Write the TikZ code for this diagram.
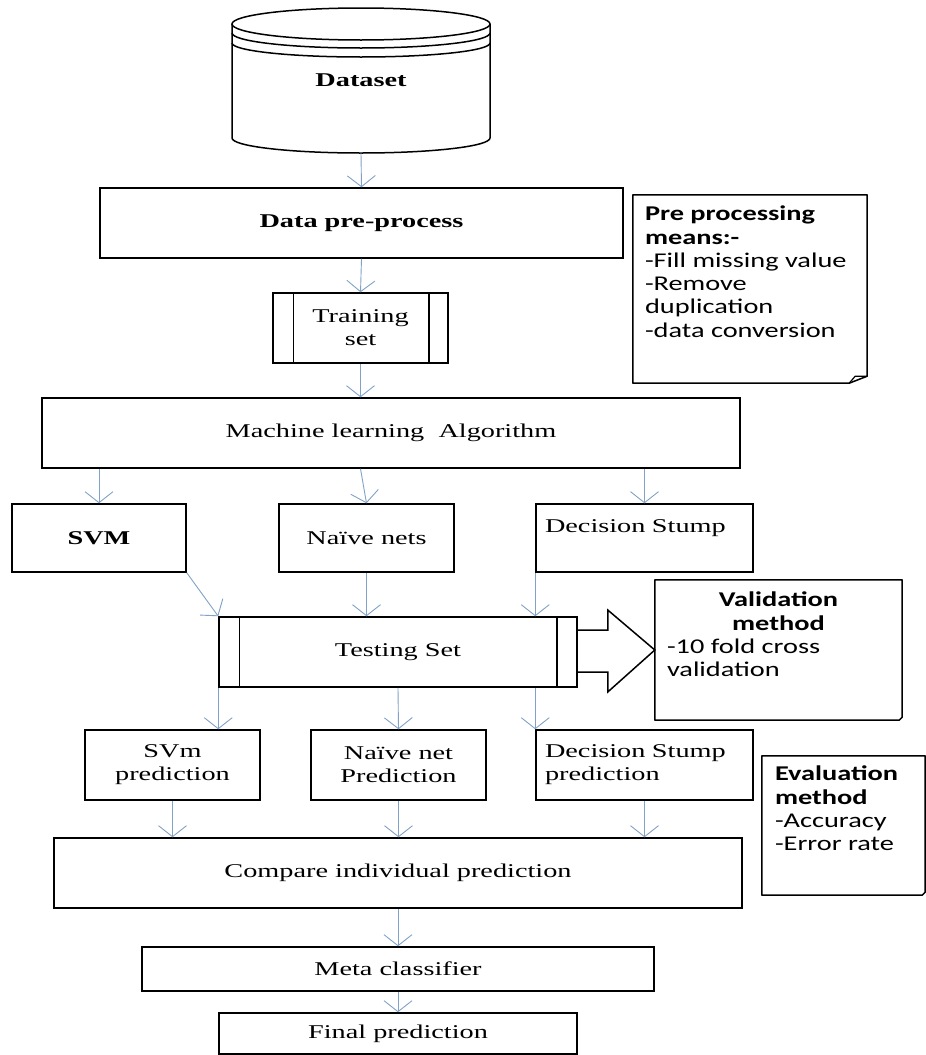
\documentclass[tikz,border=0pt]{standalone}
\usepackage{fontspec}
\setmainfont{Liberation Serif}[FakeStretch=1.45]
\newfontfamily\notefont{Carlito}[FakeStretch=1.35]
\usetikzlibrary{arrows.meta,calc}
\definecolor{flowblue}{RGB}{128,162,200}
\newcommand\boxfont{\fontsize{19.5}{23}\selectfont}

\begin{document}
\begin{tikzpicture}[x=1pt, y=-1pt,
    boxline/.style={draw, line width=1.5pt},
    box/.style 2 args={boxline, minimum width=#1, minimum height=#2, inner sep=0pt, align=center, font=\boxfont},
    notebox/.style={inner sep=0pt, font=\notefont\fontsize{21}{23.3}\selectfont},
    flow/.style={draw=flowblue, line width=0.9pt, -{Straight Barb[length=11pt,width=28pt]}}]
    \useasboundingbox (0,0) rectangle (926,1055);

    % データセット (円柱)
    \draw[boxline] (361,24) ellipse [x radius=129pt, y radius=16pt];
    \draw[boxline] (232,33) arc [start angle=180, end angle=360, x radius=129pt, y radius=15pt];
    \draw[boxline] (232,43) arc [start angle=180, end angle=360, x radius=129pt, y radius=14pt];
    \draw[boxline] (232,24) -- (232,138) arc [start angle=180, end angle=360, x radius=129pt, y radius=15pt] -- (490,24);
    \node[minimum width=258pt, minimum height=145pt, inner sep=0pt, font=\bfseries\boxfont] (dataset) at (361,80.5) {Dataset};

    % 処理の箱
    \node[box={523pt}{70pt}, font=\bfseries\boxfont] (pre) at (361.5,223) {Data pre-process};
    \node[box={175pt}{70pt}] (train) at (360.5,328) {Training\\set};
    \node[box={698pt}{70pt}] (ml) at (391,433) {Machine learning~ Algorithm};
    \node[box={174pt}{68pt}, font=\bfseries\boxfont] (svm) at (99,538) {SVM};
    \node[box={175pt}{68pt}] (nets) at (366.5,538) {Naïve nets};
    \node[box={217pt}{68pt}, align=left, text width=199pt] (stump) at (644.5,538) {Decision Stump\\\mbox{}};
    \node[box={358pt}{70pt}] (test) at (398,652) {Testing Set};
    \node[box={175pt}{70pt}] (svmp) at (172.5,765) {SVm\\prediction};
    \node[box={175pt}{70pt}] (netp) at (398.5,765) {Naïve net\\Prediction};
    \node[box={217pt}{70pt}, align=left, text width=199pt] (stumpp) at (644.5,765) {Decision Stump\\prediction};
    \node[box={688pt}{70pt}] (comp) at (398,873) {Compare individual prediction};
    \node[box={512pt}{44pt}] (meta) at (398,969) {Meta classifier};
    \node[box={358pt}{41pt}] (final) at (398,1033.5) {Final prediction};

    % 縦線 (定義済み処理)
    \draw[boxline] ([xshift=21pt]train.north west) -- ([xshift=21pt]train.south west);
    \draw[boxline] ([xshift=-20pt]train.north east) -- ([xshift=-20pt]train.south east);
    \draw[boxline] ([xshift=21pt]test.north west) -- ([xshift=21pt]test.south west);
    \draw[boxline] ([xshift=-21pt]test.north east) -- ([xshift=-21pt]test.south east);

    % メモ
    \node[notebox, inner xsep=12pt, inner ysep=11pt] (prenote) at (750,289) {\begin{minipage}[t][166pt][t]{210pt}\raggedright
      \textbf{Pre processing}\\\textbf{means:-}\\-Fill missing value\\-Remove\\duplication\\-data conversion\end{minipage}};
    \draw[boxline, line join=round] (prenote.north west) -- (prenote.north east) -- ([yshift=7pt]prenote.south east)
      -- ([xshift=-18pt]prenote.south east) -- (prenote.south west) -- cycle;
    \draw[line width=1.2pt] ([xshift=-18pt]prenote.south east) -- ([xshift=-12pt, yshift=7pt]prenote.south east) -- ([yshift=7pt]prenote.south east);

    \node[notebox, inner sep=12pt] (valnote) at (778.5,650) {\begin{minipage}[t][116pt][t]{223pt}
      {\centering\bfseries Validation\\method\par}\raggedright -10 fold cross\\validation\end{minipage}};
    \draw[boxline, line join=round] (valnote.north west) -- (valnote.north east) -- ([yshift=3pt]valnote.south east)
      -- ([xshift=-3pt]valnote.south east) -- (valnote.south west) -- cycle;

    \node[notebox, inner xsep=13pt, inner ysep=10pt] (evalnote) at (843.5,825.5) {\begin{minipage}[t][119pt][t]{137pt}\raggedright
      \textbf{Evaluation}\\\textbf{method}\\-Accuracy\\-Error rate\end{minipage}};
    \draw[boxline, line join=round] (evalnote.north west) -- (evalnote.north east) -- ([yshift=3pt]evalnote.south east)
      -- ([xshift=-3pt]evalnote.south east) -- (evalnote.south west) -- cycle;

    % 太い矢印
    \draw[boxline, line join=miter] ($(test.east)+(0,-22)$) -- ++(30,0) -- ++(0,-20) -- (valnote.west)
      -- ($(test.east)+(30,40)$) -- ++(0,-20) -- ($(test.east)+(0,20)$);

    % 矢印
    \draw[flow] (dataset.south) -- (pre.north);
    \draw[flow] (pre.south) -- (train.north);
    \draw[flow] (train.south) -- (train.south |- ml.north);
    \draw[flow] (svm.north |- ml.south) -- (svm.north);
    \draw[flow] (train.south |- ml.south) -- (nets.north);
    \draw[flow] (stump.north |- ml.south) -- (stump.north);
    \draw[flow] (svm.south east) -- (test.north west);
    \draw[flow] (nets.south) -- (nets.south |- test.north);
    \draw[flow] (stump.south west) -- (stump.south west |- test.north);
    \draw[flow] (test.south west) -- (test.south west |- svmp.north);
    \draw[flow] (test.south) -- (netp.north);
    \draw[flow] (stumpp.north west |- test.south) -- (stumpp.north west);
    \draw[flow] (svmp.south) -- (svmp.south |- comp.north);
    \draw[flow] (netp.south) -- (netp.south |- comp.north);
    \draw[flow] (stumpp.south) -- (stumpp.south |- comp.north);
    \draw[flow] (comp.south) -- (meta.north);
    \draw[flow] (meta.south) -- (final.north);
\end{tikzpicture}
\end{document}
